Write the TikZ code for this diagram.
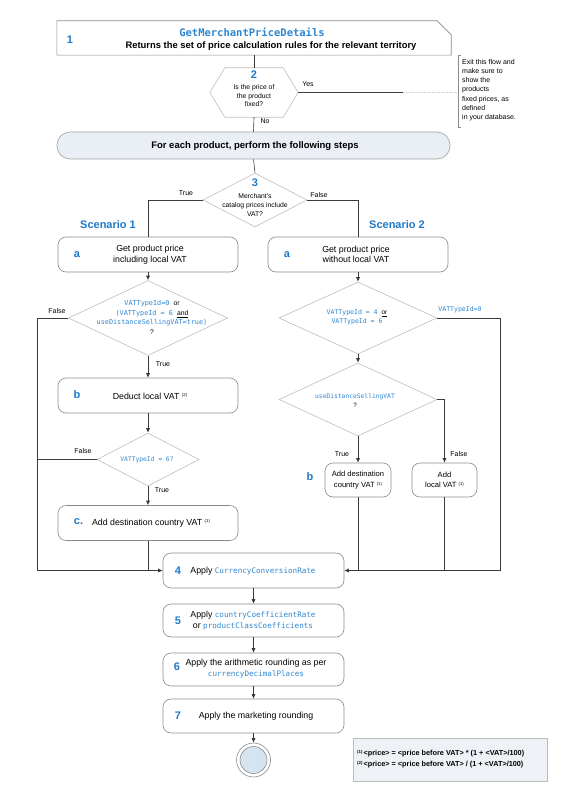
\documentclass[tikz,border=0pt]{standalone}
\usepackage{fontspec}
\setmainfont{Liberation Sans}
\setmonofont{DejaVu Sans Mono}
\usetikzlibrary{shapes.geometric,arrows.meta}
\definecolor{blu}{HTML}{1E78C8}
\definecolor{cblu}{HTML}{2E86D0}
\definecolor{boxgray}{HTML}{8A8A8A}
\definecolor{diagray}{HTML}{BDBDBD}
\definecolor{linecol}{HTML}{3A3A3A}
\definecolor{loopfill}{HTML}{E9EFF5}
\definecolor{endfill}{HTML}{D6E4EF}
\definecolor{legfill}{HTML}{EEF2F7}
\newcommand\fnm[1]{\raisebox{0.55ex}{\fontsize{4.3}{5}\selectfont(#1)}}
\newcommand\cd[1]{{\ttfamily\color{cblu}#1}}
\begin{document}
\begin{tikzpicture}[x=1pt,y=-1pt,
  stepbox/.style={draw=boxgray, rounded corners=8pt, line width=0.6pt, minimum width=180pt, minimum height=35pt, inner sep=0pt},
  dia/.style={diamond, draw=diagray, line width=0.6pt, inner sep=0pt},
  conn/.style={draw=linecol, line width=0.6pt},
  arr/.style={conn, -{Latex[length=4.5pt,width=4pt]}},
  num/.style={text=blu, font=\bfseries\fontsize{11}{12}\selectfont, inner sep=0pt},
  txt/.style={font=\fontsize{8.8}{10.5}\selectfont, align=center, inner sep=0pt},
  small/.style={font=\fontsize{7.2}{8.6}\selectfont, align=center, inner sep=0pt},
  lbl/.style={font=\fontsize{7}{8}\selectfont, inner sep=0pt},
  code/.style={font=\ttfamily\fontsize{7.5}{9.5}\selectfont, text=cblu, align=center, inner sep=0pt}
]
\useasboundingbox (0,0) rectangle (566,800);

% ---------- Box 1
\node[minimum width=394pt, minimum height=34pt, inner sep=0pt] (b1) at (254,38) {};
\draw[draw=boxgray, line width=0.6pt] (b1.south west) -- (b1.north west) -- ([xshift=-14pt]b1.north east) -- ([yshift=-14pt]b1.north east) -- (b1.south east) -- cycle;
\node[num] (n1) at (70,40) {1};
\node[font=\ttfamily\bfseries\fontsize{10.5}{12}\selectfont, text=cblu, inner sep=0pt] (t1a) at (252,32) {GetMerchantPriceDetails};
\node[font=\bfseries\fontsize{9.4}{11}\selectfont, inner sep=0pt] (t1b) at (271,46) {Returns the set of price calculation rules for the relevant territory};

% ---------- Hexagon 2
\node[minimum width=88pt, minimum height=49pt, inner sep=0pt] (hex) at (254,92.5) {};
\draw[draw=diagray, line width=0.6pt] (hex.west) -- ([xshift=15pt]hex.north west) -- ([xshift=-15pt]hex.north east) -- (hex.east) -- ([xshift=-15pt]hex.south east) -- ([xshift=15pt]hex.south west) -- cycle;
\node[num] (n2) at (254,75) {2};
\node[small, font=\fontsize{6.8}{8.5}\selectfont] (t2) at (254,96) {Is the price of\\the product\\fixed?};
\coordinate (yesend) at (403,92.5);
\coordinate (notel) at (458,92.5);
\draw[conn] (hex.east) -- (yesend);
\draw[draw=gray!30, line width=0.3pt, densely dotted] (yesend) -- (notel);
\node[lbl] (yes) at (308,84) {Yes};
\draw[draw=boxgray, line width=0.6pt] (461,55) -- (458,55) -- (458,127) -- (461,127);
\node[font=\fontsize{7}{9.2}\selectfont, align=left, anchor=north west, inner sep=0pt] (note) at (462,59) {Exit this flow and\\make sure to\\show the\\products\\fixed prices, as\\defined\\in your database.};

\draw[conn] (b1.south) -- (hex.north);

% ---------- Loop box
\node[draw=boxgray!80, fill=loopfill, rounded corners=13pt, line width=0.6pt, minimum width=393pt, minimum height=27pt, inner sep=0pt] (loop) at (253.5,145.5) {};
\node[font=\bfseries\fontsize{9.5}{11}\selectfont, inner sep=0pt] (tloop) at (255,146) {For each product, perform the following steps};
\draw[conn] (hex.south) -- (loop.north);
\node[lbl] (no) at (265,121.5) {No};

% ---------- Diamond 3
\node[dia, minimum width=104pt, minimum height=54pt] (d3) at (255,200) {};
\node[num] (n3) at (255,183) {3};
\node[small, font=\fontsize{6.8}{9}\selectfont] (t3) at (255,205.5) {Merchant's\\catalog prices include\\VAT?};
\draw[conn] (loop.south) -- (d3.north);
\node[lbl] (true3) at (186,193) {True};
\node[lbl] (false3) at (319,195) {False};

\node[font=\bfseries\fontsize{11}{12}\selectfont, text=blu, inner sep=0pt] (sc1) at (108,225) {Scenario 1};
\node[font=\bfseries\fontsize{11}{12}\selectfont, text=blu, inner sep=0pt] (sc2) at (397,225) {Scenario 2};

% ---------- Scenario 1
\node[stepbox] (a1) at (148,254.5) {};
\node[num] (na1) at (77,255) {a};
\node[txt] (ta1) at (150,254.5) {Get product price\\including local VAT};
\coordinate (c3l) at (148,200);
\draw[conn] (d3.west) -- (c3l) -- (a1.north);

\node[dia, minimum width=159pt, minimum height=75pt] (d1) at (148,318) {};
\node[code, font=\ttfamily\fontsize{6.8}{9.5}\selectfont] (td1) at (152,317.5) {VATTypeId=0 {\rmfamily\color{black}or}\\(VATTypeId = 6 {\rmfamily\color{black}\underline{and}}\\useDistanceSellingVAT=true)\\{\rmfamily\color{black}?}};
\draw[arr] (a1.south) -- (d1.north);
\node[lbl] (f1) at (57,311) {False};

\node[stepbox] (bb1) at (148,395.5) {};
\node[num] (nb1) at (77,395) {b};
\node[txt] (tb1) at (150,396) {Deduct local VAT \fnm{2}};
\draw[arr] (d1.south) -- (bb1.north);
\node[lbl] (t1) at (163,364) {True};

\node[dia, minimum width=102pt, minimum height=53pt] (d6) at (148,459.5) {};
\node[code, font=\ttfamily\fontsize{6.3}{8}\selectfont] (td6) at (147,460) {VATTypeId = 6?};
\draw[arr] (bb1.south) -- (d6.north);
\node[lbl] (f6) at (83,451) {False};

\node[stepbox] (bc1) at (148,523) {};
\node[num] (nc1) at (78.5,522) {c.};
\node[txt] (tc1) at (151,523) {Add destination country VAT \fnm{1}};
\draw[arr] (d6.south) -- (bc1.north);
\node[lbl] (t6) at (162,490) {True};

% ---------- Scenario 2
\node[stepbox] (a2) at (358,254.5) {};
\node[num] (na2) at (287,255) {a};
\node[txt] (ta2) at (356,254.5) {Get product price\\without local VAT};
\coordinate (c3r) at (358,200);
\draw[conn] (d3.east) -- (c3r) -- (a2.north);

\node[dia, minimum width=158pt, minimum height=72pt] (d2) at (358,318) {};
\node[code, font=\ttfamily\fontsize{6.5}{9}\selectfont] (td2) at (357,317) {VATTypeId = 4 {\rmfamily\color{black}\underline{or}}\\VATTypeId = 6};
\draw[arr] (a2.south) -- (d2.north);
\node[code, font=\ttfamily\fontsize{6.5}{8}\selectfont] (v0) at (460,310) {VATTypeId=0};

\node[dia, minimum width=158pt, minimum height=73pt] (du) at (358,399.5) {};
\node[code, font=\ttfamily\fontsize{6.3}{9}\selectfont] (tdu) at (355,400.5) {useDistanceSellingVAT\\{\rmfamily\color{black}?}};
\draw[arr] (d2.south) -- (du.north);

\node[stepbox, minimum width=66pt, minimum height=34pt] (bd) at (358,480) {};
\node[num] (nbd) at (310,477) {b};
\node[txt, font=\fontsize{7.6}{10.5}\selectfont] (tbd) at (358,480) {Add destination\\country VAT \fnm{1}};
\draw[arr] (du.south) -- (bd.north);
\node[lbl] (tu) at (342,454) {True};

\node[stepbox, minimum width=65pt, minimum height=34pt] (bl) at (444.5,480) {};
\node[txt, font=\fontsize{7.6}{10.5}\selectfont] (tbl) at (444.5,480) {Add\\local VAT \fnm{1}};
\coordinate (cul) at (444.5,399.5);
\draw[arr] (du.east) -- (cul) -- (bl.north);
\node[lbl] (fu) at (459,454) {False};

% ---------- Main chain
\node[stepbox, minimum width=181pt, minimum height=35pt] (b4) at (253.5,570.5) {};
\node[num] (n4) at (178,571) {4};
\node[txt] (t4) at (253,571) {Apply \cd{\fontsize{7.6}{9}\selectfont CurrencyConversionRate}};

\coordinate (l1) at (37,318);
\coordinate (l2) at (37,459.5);
\coordinate (l3) at (37,570.5);
\coordinate (m1) at (148,570.5);
\draw[conn] (d1.west) -- (l1) -- (l3);
\draw[conn] (d6.west) -- (l2);
\draw[arr] (l3) -- (b4.west);
\draw[conn] (bc1.south) -- (m1);

\coordinate (r1) at (500,318);
\coordinate (r3) at (500,570.5);
\coordinate (q1) at (444.5,570.5);
\coordinate (q2) at (358,570.5);
\draw[conn] (d2.east) -- (r1) -- (r3);
\draw[arr] (r3) -- (b4.east);
\draw[conn] (bl.south) -- (q1);
\draw[conn] (bd.south) -- (q2);

\node[stepbox, minimum width=181pt, minimum height=33pt] (b5) at (253.5,620.5) {};
\node[num] (n5) at (178,621) {5};
\node[txt] (t5) at (253,620.5) {Apply \cd{\fontsize{7.6}{9}\selectfont countryCoefficientRate}\\or \cd{\fontsize{7.6}{9}\selectfont productClassCoefficients}};
\draw[arr] (b4.south) -- (b5.north);

\node[stepbox, minimum width=181pt, minimum height=33pt] (b6) at (253.5,669.5) {};
\node[num] (n6) at (177,667) {6};
\node[txt] (t6b) at (256,668.5) {Apply the arithmetic rounding as per\\\cd{\fontsize{7.6}{9}\selectfont currencyDecimalPlaces}};
\draw[arr] (b5.south) -- (b6.north);

\node[stepbox, minimum width=181pt, minimum height=34pt] (b7) at (253.5,716) {};
\node[num] (n7) at (178,716) {7};
\node[txt] (t7) at (256,716.5) {Apply the marketing rounding};
\draw[arr] (b6.south) -- (b7.north);

\node[circle, draw=boxgray, line width=0.6pt, minimum size=34pt, inner sep=0pt] (endo) at (253.5,760) {};
\node[circle, draw=boxgray, fill=endfill, line width=0.6pt, minimum size=27pt, inner sep=0pt] (endi) at (253.5,760) {};
\draw[arr] (b7.south) -- (endo.north);

% ---------- Legend
\node[draw=diagray, fill=legfill, line width=0.6pt, minimum width=194pt, minimum height=43pt, inner sep=0pt] (leg) at (450,759.5) {};
\node[font=\bfseries\fontsize{7.3}{10.5}\selectfont, align=left, anchor=west, inner sep=0pt] (legt) at (357,759) {\fnm{1}\,<price> = <price before VAT> * (1 + <VAT>/100)\\\fnm{2}\,<price> = <price before VAT> / (1 + <VAT>/100)};
\end{tikzpicture}
\end{document}
